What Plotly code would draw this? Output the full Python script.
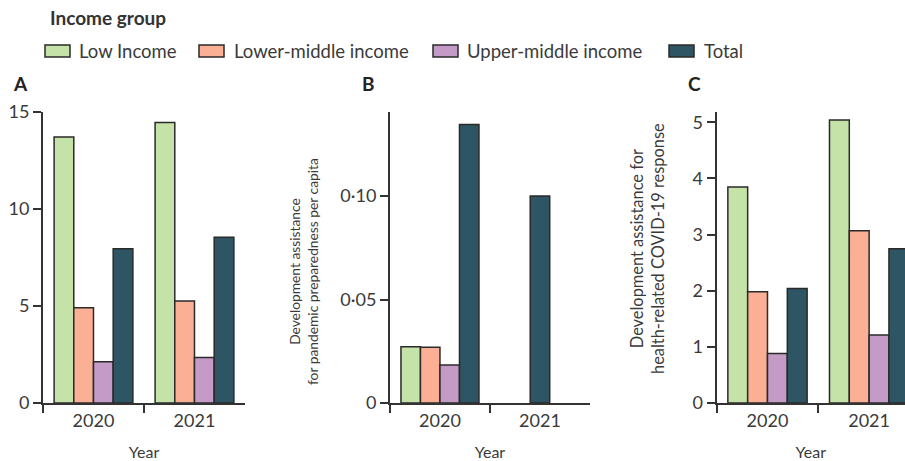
import plotly.graph_objects as go

years = ["2020", "2021"]
groups = ["Low Income", "Lower-middle income", "Upper-middle income", "Total"]

# Panel A values
a_low = [13.7, 14.45]
a_lower_mid = [4.9, 5.25]
a_upper_mid = [2.13, 2.34]
a_total = [7.94, 8.54]

# Panel B values (pandemic preparedness per capita)
b_low = [0.0272, None]
b_lower_mid = [0.027, None]
b_upper_mid = [0.0184, None]
b_total = [0.1346, 0.100]

# Panel C values (health-related COVID-19 response)
c_low = [3.85, 5.04]
c_lower_mid = [1.98, 3.07]
c_upper_mid = [0.88, 1.21]
c_total = [2.04, 2.75]

a_ticks = [0, 5, 10, 15]
b_tickvals = [0, 0.05, 0.10]
b_ticktext = ["0", "0·05", "0·10"]
c_ticks = [0, 1, 2, 3, 4, 5]

b_ytitle = "Development assistance<br>for pandemic preparedness per capita"
c_ytitle = "Development assistance for<br>health-related COVID-19 response"

colors = ["#c5e3a8", "#fbb095", "#c49ac6", "#2d5563"]
outline = "#2a2a2a"
txt = "#3a3a3a"
FONT = "Lato"
FW, FH = 905, 461

W = 0.195
offsets = [-2 * W, -W, 0, W]

fig = go.Figure()

panels = [
    ("x", "y", [a_low, a_lower_mid, a_upper_mid, a_total]),
    ("x2", "y2", [b_low, b_lower_mid, b_upper_mid, b_total]),
    ("x3", "y3", [c_low, c_lower_mid, c_upper_mid, c_total]),
]

for pi, (xa, ya, series) in enumerate(panels):
    for gi, vals in enumerate(series):
        off = offsets[gi]
        if pi == 1 and gi == 3:
            off = [offsets[3], -W / 2]
        fig.add_trace(go.Bar(
            x=years, y=vals, name=groups[gi], xaxis=xa, yaxis=ya,
            marker=dict(color=colors[gi], line=dict(color=outline, width=1.5)),
            width=W, offset=off, showlegend=False,
        ))

ydom = [0.1258, 0.7577]
axis_common = dict(showline=True, linecolor="#333333", linewidth=2, ticks="outside",
                   ticklen=8, tickwidth=2, tickcolor="#333333", showgrid=False,
                   zeroline=False, automargin=False,
                   tickfont=dict(family=FONT, size=18, color=txt))

xcommon = dict(axis_common, type="category", categoryorder="array", categoryarray=years,
               tickson="boundaries",
               title=dict(text="Year", font=dict(family=FONT, size=16, color=txt), standoff=17))


def px(x):
    return x / FW


def py(y):
    return 1 - y / FH


# manual legend (layout only)
swatch_left = [45, 199, 433, 669]
text_left = [77, 232, 465, 702]
shapes = []
annotations = [
    dict(text="<b>Income group</b>", x=px(48), y=py(17), xref="paper", yref="paper",
         xanchor="left", yanchor="middle", showarrow=False,
         font=dict(family=FONT, size=19, color="#333")),
]
for gi, name in enumerate(groups):
    shapes.append(dict(type="rect", xref="paper", yref="paper",
                       x0=px(swatch_left[gi]), x1=px(swatch_left[gi] + 25),
                       y0=py(57), y1=py(45), fillcolor=colors[gi],
                       line=dict(color=outline, width=1.5)))
    annotations.append(dict(text=name, x=px(text_left[gi]), y=py(51), xref="paper",
                            yref="paper", xanchor="left", yanchor="middle",
                            showarrow=False, font=dict(family=FONT, size=18.5, color=txt)))

for letter, lx in [("A", 20), ("B", 368), ("C", 694)]:
    annotations.append(dict(text=f"<b>{letter}</b>", x=px(lx), y=py(83), xref="paper",
                            yref="paper", xanchor="center", yanchor="middle",
                            showarrow=False, font=dict(family=FONT, size=19, color="#222")))

# y-axis titles placed as rotated annotations
annotations.append(dict(text=b_ytitle, x=px(303), y=py(272), xref="paper", yref="paper",
                        xanchor="center", yanchor="middle", textangle=-90, showarrow=False,
                        font=dict(family=FONT, size=13.8, color=txt)))
annotations.append(dict(text=c_ytitle, x=px(647), y=py(249), xref="paper", yref="paper",
                        xanchor="center", yanchor="middle", textangle=-90, showarrow=False,
                        font=dict(family=FONT, size=16.4, color=txt)))

fig.update_layout(
    width=FW, height=FH,
    margin=dict(l=0, r=0, t=0, b=0, autoexpand=False),
    paper_bgcolor="white", plot_bgcolor="white",
    barmode="overlay",
    showlegend=False,
    font=dict(family=FONT, color=txt),
    xaxis=dict(xcommon, domain=[0.0475, 0.2707], anchor="y", range=[-0.5, 1.5]),
    xaxis2=dict(xcommon, domain=[0.4309, 0.6519], anchor="y2", range=[-0.5, 1.5]),
    xaxis3=dict(xcommon, domain=[0.7919, 1.0], anchor="y3", range=[-0.5, 1.353]),
    yaxis=dict(axis_common, domain=ydom, anchor="x", range=[0, 15], tickvals=a_ticks),
    yaxis2=dict(axis_common, domain=ydom, anchor="x2", range=[0, 0.1408],
                tickvals=b_tickvals, ticktext=b_ticktext),
    yaxis3=dict(axis_common, domain=ydom, anchor="x3", range=[0, 5.19], tickvals=c_ticks),
    shapes=shapes,
    annotations=annotations,
)

fig.write_html("out.html")
